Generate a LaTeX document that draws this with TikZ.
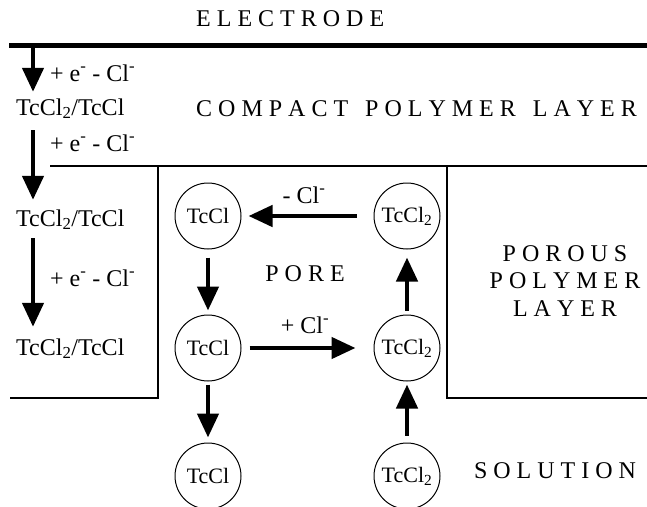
\documentclass[tikz,border=0pt]{standalone}
\usepackage{fontspec}
\setmainfont{Liberation Serif}
\usetikzlibrary{arrows.meta,calc}
\begin{document}
\begin{tikzpicture}[x=1pt,y=-1pt,
  every node/.style={inner sep=0pt, font=\fontsize{24}{28}\selectfont},
  spaced/.style={anchor=base west},
  centred/.style={anchor=base},
  chem/.style={anchor=base west, text height=17pt, text depth=4pt},
  lbl/.style={anchor=base west},
  ring/.style={circle, draw, line width=1pt, minimum size=66pt, font=\fontsize{22}{26}\selectfont},
  bigarrow/.style={line width=4.5pt, -{Triangle[length=24pt,width=21pt]}},
  wall/.style={line width=1.2pt},
]
\useasboundingbox (0,0) rectangle (647,506);

% layer boundaries
\coordinate (elL) at (9,45);
\coordinate (elR) at (647,45);
\draw[line width=5pt] (elL) -- (elR);
\coordinate (cpL) at (50,166);
\coordinate (cpR) at (647,166);
\draw[wall] (cpL) -- (cpR);
\coordinate (pl1) at (158,166);
\coordinate (pl2) at (158,398);
\coordinate (pl3) at (10,398);
\draw[wall] (pl1) -- (pl2) -- (pl3);
\coordinate (pr1) at (447,166);
\coordinate (pr2) at (447,398);
\coordinate (pr3) at (647,398);
\draw[wall] (pr1) -- (pr2) -- (pr3);

% region titles
\node[spaced] (electrode) at (196,26) {E L E C T R O D E};
\node[spaced] (compact) at (196,116) {C O M P A C T\hspace{17pt}P O L Y M E R\hspace{17pt}L A Y E R};
\node[centred] (porous) at (565,261) {P O R O U S};
\node[centred] (polymer) at (565,288) {P O L Y M E R};
\node[centred] (layer) at (565,316) {L A Y E R};
\node[centred] (solution) at (555,478) {S O L U T I O N};
\node[centred] (pore) at (305,281) {P O R E};

% left column
\coordinate (ax) at (33,0);
\coordinate (e1) at (33,45);
\node[chem] (t1) at (16,115) {TcCl\textsubscript{2}/TcCl};
\node[chem] (t2) at (16,226) {TcCl\textsubscript{2}/TcCl};
\node[chem] (t3) at (16,355) {TcCl\textsubscript{2}/TcCl};
\node[lbl] (l1) at (50,81) {+ e\textsuperscript{-} - Cl\textsuperscript{-}};
\node[lbl] (l2) at (50,151) {+ e\textsuperscript{-} - Cl\textsuperscript{-}};
\node[lbl] (l3) at (50,286) {+ e\textsuperscript{-} - Cl\textsuperscript{-}};
\draw[bigarrow, shorten >=6pt] (e1) -- (t1.north -| ax);
\draw[bigarrow, shorten <=11pt, shorten >=9pt] (t1.south -| ax) -- (t2.north -| ax);
\draw[bigarrow, shorten <=8pt, shorten >=11pt] (t2.south -| ax) -- (t3.north -| ax);

% pore species
\node[ring] (c1) at (208,216) {TcCl};
\node[ring] (c2) at (407,216) {TcCl\textsubscript{2}};
\node[ring] (c3) at (208,348) {TcCl};
\node[ring] (c4) at (407,348) {TcCl\textsubscript{2}};
\node[ring] (c5) at (208,476) {TcCl};
\node[ring] (c6) at (407,476) {TcCl\textsubscript{2}};
\node[centred] (m1) at (304,203) {- Cl\textsuperscript{-}};
\node[centred] (m2) at (305,333) {+ Cl\textsuperscript{-}};

\draw[bigarrow, shorten <=17pt, shorten >=7pt] (c2.west) -- (c1.east);
\draw[bigarrow, shorten <=8pt, shorten >=18pt] (c3.east) -- (c4.west);
\draw[bigarrow, shorten <=8pt, shorten >=4pt] (c1.south) -- (c3.north);
\draw[bigarrow, shorten <=4pt, shorten >=8pt] (c4.north) -- (c2.south);
\draw[bigarrow, shorten <=3pt, shorten >=5pt] (c3.south) -- (c5.north);
\draw[bigarrow, shorten <=7pt, shorten >=3pt] (c6.north) -- (c4.south);
\end{tikzpicture}
\end{document}
